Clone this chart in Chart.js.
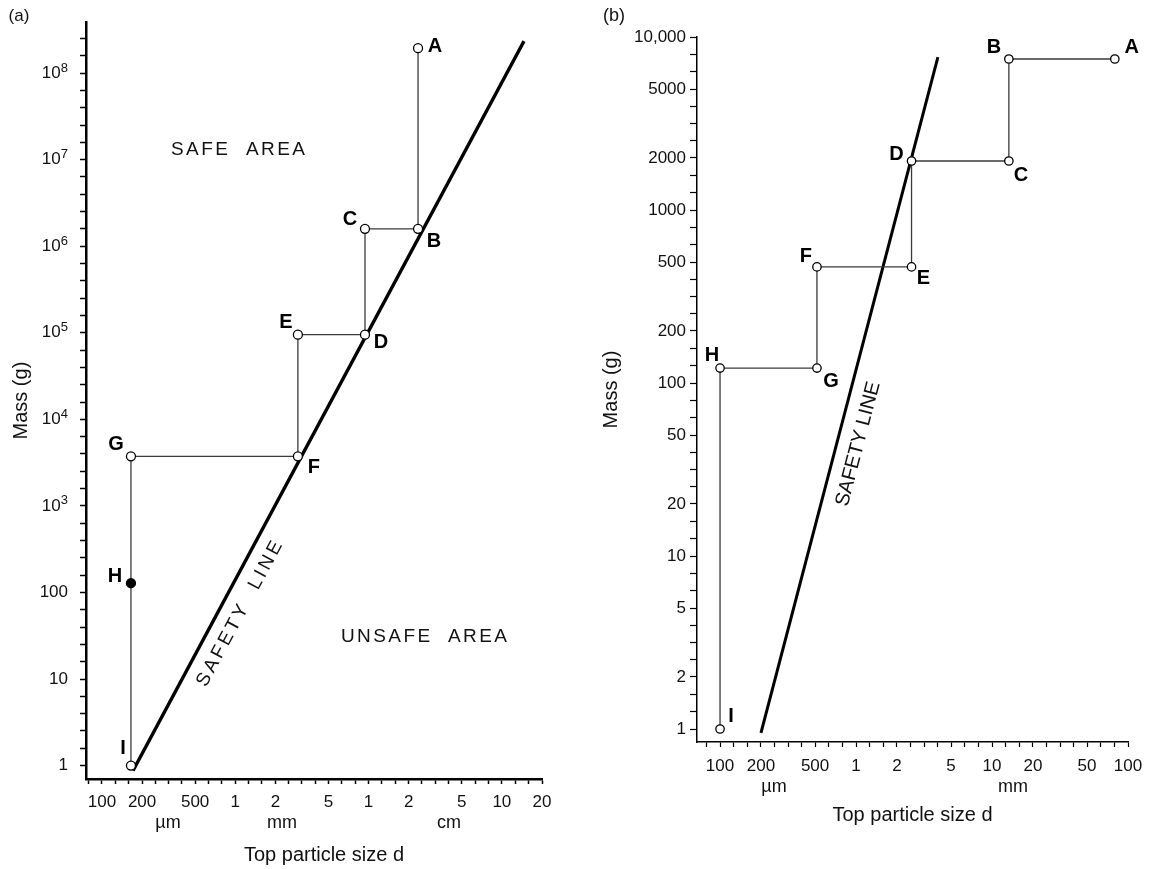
<!DOCTYPE html>
<html><head><meta charset="utf-8">
<script src="https://cdn.jsdelivr.net/npm/chart.js@4.4.1/dist/chart.umd.min.js"></script>
<style>
html,body{margin:0;padding:0;background:#fff;}
#wrap{position:relative;width:1154px;height:869px;background:#fff;}
canvas{position:absolute;top:0;}
#ca{left:0;} #cb{left:577px;}
</style></head><body>
<div id="wrap"><canvas id="ca" width="577" height="869"></canvas><canvas id="cb" width="577" height="869"></canvas></div>
<script>
// ---------------- Data: panel (a) ----------------
const aPointNames = ['A','B','C','D','E','F','G','H','I'];
const aSize = [23.5, 23.5, 9.4, 9.4, 2.95, 2.95, 0.165, 0.165, 0.165];      // mm
const aMass = [1.94e8, 1.59e6, 1.59e6, 9.5e4, 9.5e4, 3740, 3740, 128, 1];  // g
const aFilled = [false, false, false, false, false, false, false, true, false];
const aSafetySize = [0.171, 146.5];
const aSafetyMass = [0.875, 2.34e8];
const aXTickValues = [0.1, 0.2, 0.5, 1, 2, 5, 10, 20, 50, 100, 200];
const aXTickLabels = ['100', '200', '500', '1', '2', '5', '1', '2', '5', '10', '20'];
const aYTickExponents = [0, 1, 2, 3, 4, 5, 6, 7, 8];

// ---------------- Data: panel (b) ----------------
const bPointNames = ['A','B','C','D','E','F','G','H','I'];
const bSize = [80, 13.3, 13.3, 2.56, 2.56, 0.516, 0.516, 0.1, 0.1];        // mm
const bMass = [7460, 7460, 1920, 1920, 469, 469, 122, 122, 1];             // g
const bSafetySize = [0.2, 4.0];
const bSafetyMass = [0.95, 7660];
const bXTickValues = [0.1, 0.2, 0.5, 1, 2, 5, 10, 20, 50, 100];
const bXTickLabels = ['100', '200', '500', '1', '2', '5', '10', '20', '50', '100'];
const bYTickValues = [1, 2, 5, 10, 20, 50, 100, 200, 500, 1000, 2000, 5000, 10000];
const bYTickLabels = ['1', '2', '5', '10', '20', '50', '100', '200', '500', '1000', '2000', '5000', '10,000'];

// ---------------- helpers ----------------
const FAM = '"Liberation Sans", Arial, Helvetica, sans-serif';
function tickSet(kFrom, kTo, kStep, named) {
  const out = [];
  for (let k = kFrom; k <= kTo; k += kStep) {
    let v = Math.pow(10, k / 10);
    for (const n of named) { if (Math.abs(Math.log10(n) - k / 10) < 0.02) v = n; }
    out.push(v);
  }
  return out;
}
function labelFor(values, labels) {
  return function (value) {
    const i = values.findIndex(v => Math.abs(v - value) / v < 1e-6);
    return i >= 0 ? labels[i] : '';
  };
}
const aXTicks = tickSet(-11, 23, 1, aXTickValues);
const aYTicks = tickSet(0, 84, 2, aYTickExponents.map(e => Math.pow(10, e)));
const bXTicks = tickSet(-11, 20, 1, bXTickValues);
const bYTicks = tickSet(0, 40, 1, bYTickValues);

function spacedText(ctx, txt, x, y, spacing) {
  ctx.letterSpacing = spacing + 'px';
  ctx.fillText(txt, x, y);
  ctx.letterSpacing = '0px';
}

function pointLabels(chart, names, offsets) {
  const ctx = chart.ctx;
  const meta = chart.getDatasetMeta(0);
  ctx.save();
  ctx.fillStyle = '#000';
  ctx.font = 'bold 20px ' + FAM;
  ctx.textAlign = 'center';
  ctx.textBaseline = 'middle';
  names.forEach((n, i) => {
    const el = meta.data[i];
    ctx.fillText(n, el.x + offsets[i][0], el.y + offsets[i][1]);
  });
  ctx.restore();
}

function safetyText(chart, sx, sy, along, perp, text, font, spacing) {
  const xs = chart.scales.x, ys = chart.scales.y, ctx = chart.ctx;
  const x0 = xs.getPixelForValue(sx[0]), y0 = ys.getPixelForValue(sy[0]);
  const x1 = xs.getPixelForValue(sx[1]), y1 = ys.getPixelForValue(sy[1]);
  const L = Math.hypot(x1 - x0, y1 - y0);
  const dx = (x1 - x0) / L, dy = (y1 - y0) / L;
  const nx = -dy, ny = dx;
  const cx = x0 + dx * along + nx * perp, cy = y0 + dy * along + ny * perp;
  ctx.save();
  ctx.translate(cx, cy);
  ctx.rotate(Math.atan2(dy, dx));
  ctx.font = font;
  ctx.fillStyle = '#111';
  ctx.textAlign = 'center';
  ctx.textBaseline = 'middle';
  spacedText(ctx, text, 0, 0, spacing);
  ctx.restore();
}

// label offsets (pixels, relative to the marker)
const aLabelOffsets = [[17,-2],[16,13],[-15,-9],[16,8],[-12,-12],[16,11],[-15,-12],[-16,-7],[-8,-17]];
const bLabelOffsets = [[17,-12],[-15,-12],[12,14],[-15,-7],[12,12],[-11,-10],[14,13],[-8,-13],[11,-13]];

const annotA = {
  id: 'annotA',
  afterDraw(chart) {
    const ctx = chart.ctx, ys = chart.scales.y;
    ctx.save();
    ctx.fillStyle = '#111';
    // y tick labels with superscripts
    aYTickExponents.forEach(e => {
      const y = ys.getPixelForValue(Math.pow(10, e));
      const right = 68;
      if (e <= 2) {
        ctx.font = '17px ' + FAM; ctx.textAlign = 'right'; ctx.textBaseline = 'middle';
        ctx.fillText(String(Math.pow(10, e)), right, y);
      } else {
        ctx.font = '13px ' + FAM;
        const w2 = ctx.measureText(String(e)).width;
        ctx.textAlign = 'left'; ctx.textBaseline = 'alphabetic';
        ctx.fillText(String(e), right - w2, y - 1.5);
        ctx.font = '17px ' + FAM; ctx.textAlign = 'right'; ctx.textBaseline = 'middle';
        ctx.fillText('10', right - w2, y);
      }
    });
    // areas
    ctx.font = '19px ' + FAM; ctx.textAlign = 'left'; ctx.textBaseline = 'middle';
    spacedText(ctx, 'SAFE', 171, 150, 2.4);
    spacedText(ctx, 'AREA', 246, 150, 2.4);
    spacedText(ctx, 'UNSAFE', 341, 637, 2.4);
    spacedText(ctx, 'AREA', 448, 637, 2.4);
    // units and x title
    ctx.font = '18px ' + FAM; ctx.textAlign = 'center'; ctx.textBaseline = 'middle';
    ctx.fillText('\u00b5m', 168, 823);
    ctx.fillText('mm', 282, 823);
    ctx.fillText('cm', 449, 823);
    ctx.font = '20px ' + FAM;
    ctx.fillText('Top particle size d', 324, 855);
    ctx.font = '17px ' + FAM;
    ctx.fillText('(a)', 19, 16);
    ctx.restore();
    safetyText(chart, aSafetySize, aSafetyMass, 190, 20, 'SAFETY  LINE', '19px ' + FAM, 3.2);
    pointLabels(chart, aPointNames, aLabelOffsets);
  }
};

const annotB = {
  id: 'annotB',
  afterDraw(chart) {
    const ctx = chart.ctx;
    ctx.save();
    ctx.fillStyle = '#111';
    ctx.font = '18px ' + FAM; ctx.textAlign = 'center'; ctx.textBaseline = 'middle';
    ctx.fillText('\u00b5m', 197, 787);
    ctx.fillText('mm', 436, 787);
    ctx.font = '18px ' + FAM;
    ctx.fillText('(b)', 37, 16);
    ctx.restore();
    safetyText(chart, bSafetySize, bSafetyMass, 304, 21, 'SAFETY LINE', '20px ' + FAM, 0);
    pointLabels(chart, bPointNames, bLabelOffsets);
  }
};

function makeChart(id, cfg) {
  return new Chart(document.getElementById(id), {
    type: 'scatter',
    data: {
      datasets: [
        { data: cfg.size.map((x, i) => ({ x, y: cfg.mass[i] })), showLine: true,
          borderColor: '#3a3a3a', borderWidth: 1.3, pointRadius: cfg.pr, pointBorderWidth: 1.3,
          pointBorderColor: '#000', pointBackgroundColor: cfg.filled.map(f => f ? '#000' : '#fff'),
          pointHoverRadius: cfg.pr, fill: false, tension: 0 },
        { data: cfg.sSize.map((x, i) => ({ x, y: cfg.sMass[i] })), showLine: true,
          borderColor: '#000', borderWidth: cfg.sw, pointRadius: 0, pointHoverRadius: 0, fill: false }
      ]
    },
    options: {
      responsive: false, animation: false, devicePixelRatio: 1,
      events: [],
      layout: { padding: cfg.padding },
      plugins: { legend: { display: false }, tooltip: { enabled: false } },
      scales: {
        x: {
          type: 'logarithmic', position: 'bottom', min: cfg.xmin, max: cfg.xmax,
          afterFit(s) { s.height = cfg.xh; },
          afterBuildTicks(s) { s.ticks = cfg.xTicks.map(v => ({ value: v })); },
          ticks: { autoSkip: false, maxRotation: 0, minRotation: 0, padding: cfg.xpad, color: '#111',
                   font: { family: FAM, size: 17 }, callback: cfg.xcb },
          grid: { drawOnChartArea: false, drawTicks: true, tickLength: cfg.xtl, tickColor: '#000', tickWidth: cfg.tw },
          border: { display: true, color: '#000', width: cfg.bw },
          title: cfg.xtitle
        },
        y: {
          type: 'logarithmic', position: 'left', min: cfg.ymin, max: cfg.ymax,
          afterFit(s) { s.width = cfg.yw; },
          afterBuildTicks(s) { s.ticks = cfg.yTicks.map(v => ({ value: v })); },
          ticks: { autoSkip: false, padding: cfg.ypad, color: '#111', font: { family: FAM, size: 17 }, callback: cfg.ycb },
          grid: { drawOnChartArea: false, drawTicks: true, tickLength: cfg.ytl, tickColor: '#000', tickWidth: cfg.tw },
          border: { display: true, color: '#000', width: cfg.bw },
          title: { display: true, text: 'Mass (g)', color: '#111', font: { family: FAM, size: 20 }, padding: { top: cfg.ytp, bottom: 0 } }
        }
      }
    },
    plugins: [cfg.plugin]
  });
}

makeChart('ca', {
  size: aSize, mass: aMass, filled: aFilled, sSize: aSafetySize, sMass: aSafetyMass,
  pr: 4.5, sw: 3.3, padding: { left: 0, right: 35, top: 22, bottom: 0 },
  xmin: 0.0759, xmax: 200, xh: 90, xTicks: aXTicks, xpad: 8, xtl: 5, xcb: labelFor(aXTickValues, aXTickLabels),
  ymin: Math.pow(10, -0.138), ymax: Math.pow(10, 8.588), yw: 86, yTicks: aYTicks, ypad: 12, ytl: 6,
  ycb: () => '', tw: 1.5, bw: 2.5, ytp: 9.5,
  xtitle: { display: false },
  plugin: annotA
});

makeChart('cb', {
  size: bSize, mass: bMass, filled: bSize.map(() => false), sSize: bSafetySize, sMass: bSafetyMass,
  pr: 4.2, sw: 3, padding: { left: 0, right: 26, top: 37, bottom: 0 },
  xmin: 0.0677, xmax: 100, xh: 127, xTicks: bXTicks, xpad: 9, xtl: 5, xcb: labelFor(bXTickValues, bXTickLabels),
  ymin: Math.pow(10, -0.075), ymax: 10000, yw: 120, yTicks: bYTicks, ypad: 4, ytl: 7,
  ycb: labelFor(bYTickValues, bYTickLabels), tw: 1.2, bw: 1.5, ytp: 22,
  xtitle: { display: true, text: 'Top particle size d', color: '#111', font: { family: FAM, size: 20 }, padding: { top: 0, bottom: 42 } },
  plugin: annotB
});
</script>
</body></html>
